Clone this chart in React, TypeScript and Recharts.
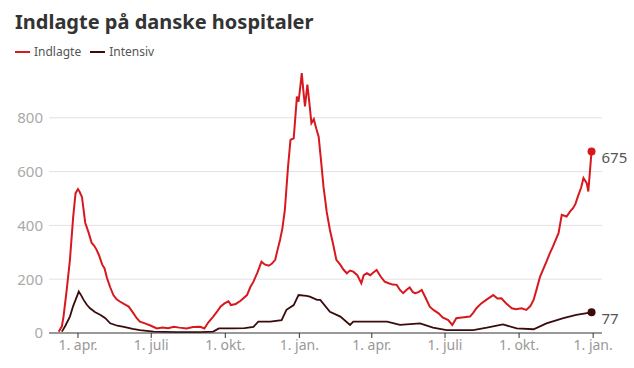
import { Line, LineChart, ReferenceLine, XAxis, YAxis } from "recharts";

const indlagteDates = [
    "2020-03-08", "2020-03-12", "2020-03-14", "2020-03-18", "2020-03-22", "2020-03-26", "2020-03-29", "2020-04-01",
    "2020-04-03", "2020-04-06", "2020-04-10", "2020-04-14", "2020-04-18", "2020-04-21", "2020-04-24", "2020-04-27",
    "2020-05-01", "2020-05-04", "2020-05-07", "2020-05-11", "2020-05-15", "2020-05-19", "2020-05-23", "2020-05-28",
    "2020-06-03", "2020-06-09", "2020-06-13", "2020-06-17", "2020-06-24", "2020-06-30", "2020-07-08", "2020-07-15",
    "2020-07-22", "2020-07-29", "2020-08-05", "2020-08-14", "2020-08-22", "2020-08-31", "2020-09-05", "2020-09-10",
    "2020-09-16", "2020-09-21", "2020-09-25", "2020-09-30", "2020-10-05", "2020-10-08", "2020-10-14", "2020-10-20",
    "2020-10-28", "2020-11-01", "2020-11-05", "2020-11-10", "2020-11-15", "2020-11-19", "2020-11-24", "2020-11-28",
    "2020-12-02", "2020-12-05", "2020-12-08", "2020-12-11", "2020-12-14", "2020-12-18", "2020-12-21", "2020-12-25",
    "2020-12-29", "2020-12-31", "2021-01-02", "2021-01-04", "2021-01-06", "2021-01-08", "2021-01-11", "2021-01-14",
    "2021-01-16", "2021-01-19", "2021-01-22", "2021-01-25", "2021-01-28", "2021-01-31", "2021-02-04", "2021-02-08",
    "2021-02-12", "2021-02-16", "2021-02-21", "2021-02-25", "2021-03-01", "2021-03-05", "2021-03-09", "2021-03-14",
    "2021-03-19", "2021-03-22", "2021-03-26", "2021-03-30", "2021-04-03", "2021-04-07", "2021-04-12", "2021-04-17",
    "2021-04-22", "2021-04-27", "2021-05-02", "2021-05-06", "2021-05-10", "2021-05-14", "2021-05-18", "2021-05-22",
    "2021-05-25", "2021-05-29", "2021-06-02", "2021-06-07", "2021-06-12", "2021-06-17", "2021-06-23", "2021-06-28",
    "2021-07-05", "2021-07-10", "2021-07-15", "2021-07-22", "2021-08-01", "2021-08-05", "2021-08-09", "2021-08-15",
    "2021-08-22", "2021-08-30", "2021-09-04", "2021-09-09", "2021-09-15", "2021-09-22", "2021-09-27", "2021-10-04",
    "2021-10-10", "2021-10-15", "2021-10-19", "2021-10-23", "2021-10-27", "2021-11-04", "2021-11-08", "2021-11-12",
    "2021-11-16", "2021-11-19", "2021-11-23", "2021-11-29", "2021-12-03", "2021-12-07", "2021-12-10", "2021-12-13",
    "2021-12-17", "2021-12-20", "2021-12-24", "2021-12-26", "2021-12-30",
];
const indlagteValues = [
    5, 25, 60, 160, 272, 430, 520, 535,
    525, 505, 410, 375, 335, 325, 310, 290,
    255, 240, 205, 170, 141, 125, 117, 108,
    98, 73, 55, 42, 35, 28, 17, 20,
    18, 23, 20, 17, 22, 23, 17, 40,
    61, 80, 98, 110, 118, 104, 108, 120,
    141, 170, 191, 225, 265, 255, 250, 258,
    272, 310, 346, 390, 458, 620, 718, 724,
    879, 860, 910, 966, 900, 842, 923, 840,
    780, 795, 760, 730, 640, 544, 450, 383,
    330, 272, 253, 235, 222, 232, 228, 215,
    185, 215, 222, 215, 225, 234, 210, 191,
    185, 180, 179, 160, 148, 160, 169, 152,
    148, 152, 160, 130, 98, 85, 73, 58,
    48, 30, 55, 58, 61, 75, 92, 110,
    125, 141, 128, 129, 110, 92, 88, 92,
    86, 100, 123, 165, 209, 265, 295, 321,
    350, 371, 439, 433, 450, 464, 480, 507,
    540, 576, 557, 526, 675,
];

const intensivDates = [
    "2020-03-12", "2020-03-16", "2020-03-22", "2020-03-26", "2020-03-29", "2020-04-02", "2020-04-05", "2020-04-08",
    "2020-04-12", "2020-04-16", "2020-04-22", "2020-04-29", "2020-05-05", "2020-05-11", "2020-05-20", "2020-05-28",
    "2020-06-08", "2020-06-17", "2020-07-04", "2020-08-01", "2020-09-01", "2020-09-16", "2020-09-23", "2020-10-11",
    "2020-10-25", "2020-11-05", "2020-11-11", "2020-11-26", "2020-12-10", "2020-12-16", "2020-12-25", "2020-12-31",
    "2021-01-10", "2021-01-14", "2021-01-23", "2021-01-27", "2021-02-08", "2021-02-21", "2021-03-05", "2021-03-09",
    "2021-04-20", "2021-05-06", "2021-05-31", "2021-06-16", "2021-07-03", "2021-08-05", "2021-08-22", "2021-09-11",
    "2021-09-28", "2021-10-19", "2021-11-04", "2021-11-25", "2021-12-11", "2021-12-30",
];
const intensivValues = [
    5, 25, 61, 100, 123, 154, 140, 123,
    105, 92, 78, 67, 55, 36, 27, 23,
    15, 11, 5, 3, 3, 5, 17, 17,
    18, 23, 42, 42, 48, 86, 104, 141,
    138, 135, 123, 123, 79, 61, 30, 42,
    42, 30, 36, 20, 11, 11, 20, 32,
    17, 14, 36, 55, 67, 77,
];

const tickDates = [
    "2020-04-01", "2020-07-01", "2020-10-01", "2021-01-01",
    "2021-04-01", "2021-07-01", "2021-10-01", "2022-01-01",
];
const monthLabels: Record<number, string> = { 0: "1. jan.", 3: "1. apr.", 6: "1. juli", 9: "1. okt." };
const yTicks = [0, 200, 400, 600, 800];

const RED = "#d7191f";
const DARK = "#3d0a0c";
const FONT = "'Noto Sans', sans-serif";

const ts = (d: string) => Date.parse(d + "T00:00:00Z");

const indlagte = indlagteDates.map((d, i) => ({ t: ts(d), v: indlagteValues[i] }));
const intensiv = intensivDates.map((d, i) => ({ t: ts(d), v: intensivValues[i] }));

const endDot = (color: string, last: number) => (props: any) => {
    if (props.index !== last) return <g key={props.index} />;
    return (
        <g key={props.index}>
            <circle cx={props.cx} cy={props.cy} r={4} fill={color} />
            <text x={props.cx + 10} y={props.cy + 12} fill="#555" fontSize={15} fontFamily={FONT}>
                {props.value}
            </text>
        </g>
    );
};

function App() {
    return (
        <div style={{ position: "absolute", left: 0, top: 0, width: 634, height: 368, background: "#fff", fontFamily: FONT }}>
            <div style={{ position: "absolute", left: 15, top: 8, fontSize: 20, fontWeight: 700, color: "#333" }}>
                Indlagte på danske hospitaler
            </div>
            <div style={{ position: "absolute", left: 15, top: 43, fontSize: 12, color: "#555", display: "flex", alignItems: "center" }}>
                <span style={{ display: "inline-block", width: 15, height: 2, background: RED, marginRight: 4 }} />
                <span style={{ marginRight: 9 }}>Indlagte</span>
                <span style={{ display: "inline-block", width: 15, height: 2, background: DARK, marginRight: 4 }} />
                <span>Intensiv</span>
            </div>
            <div style={{ position: "absolute", left: 0, top: 0 }}>
                <LineChart width={634} height={368} margin={{ top: 64, right: 32, left: 0, bottom: 5 }}>
                    <XAxis
                        dataKey="t"
                        type="number"
                        domain={[ts("2020-02-25"), ts("2022-01-12")]}
                        ticks={tickDates.map(ts)}
                        tickFormatter={(t: number) => monthLabels[new Date(t).getUTCMonth()]}
                        stroke="#333"
                        tickSize={5}
                        tick={{ fill: "#999", fontSize: 14, fontFamily: FONT }}
                        height={30}
                    />
                    <YAxis
                        dataKey="v"
                        domain={[0, 1000]}
                        ticks={yTicks}
                        axisLine={false}
                        tickLine={false}
                        tickSize={0}
                        tickMargin={6}
                        width={49}
                        tick={{ fill: "#aaa", fontSize: 15, fontFamily: FONT }}
                    />
                    {yTicks.slice(1).map((v) => (
                        <ReferenceLine key={v} y={v} stroke="#e2e2e2" />
                    ))}
                    <Line
                        data={intensiv}
                        dataKey="v"
                        stroke={DARK}
                        strokeWidth={1.8}
                        dot={endDot(DARK, intensiv.length - 1)}
                        activeDot={false}
                        isAnimationActive={false}
                    />
                    <Line
                        data={indlagte}
                        dataKey="v"
                        stroke={RED}
                        strokeWidth={2}
                        dot={endDot(RED, indlagte.length - 1)}
                        activeDot={false}
                        isAnimationActive={false}
                    />
                </LineChart>
            </div>
        </div>
    );
}

export default App;
